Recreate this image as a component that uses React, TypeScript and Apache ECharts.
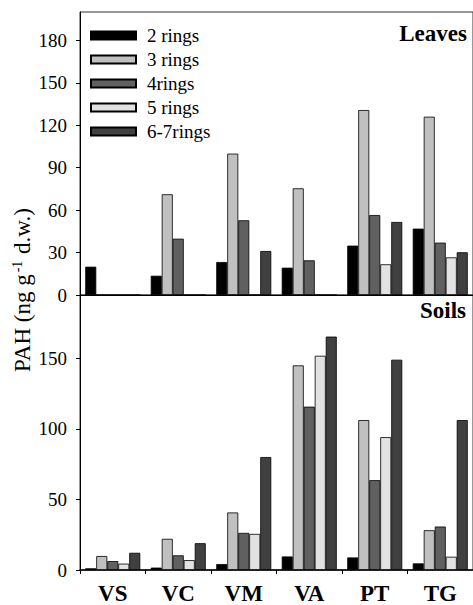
import React, { useEffect, useRef } from "react";
import * as echarts from "echarts";

const sites = ["VS", "VC", "VM", "VA", "PT", "TG"];
const ringNames = ["2 rings", "3 rings", "4rings", "5 rings", "6-7rings"];
const ringColors = ["#000000", "#c0c0c0", "#606060", "#e2e2e2", "#404040"];

// Leaves (ng g-1 d.w.)
const leaves2 = [20, 13.6, 23.3, 19.3, 34.9, 46.9];
const leaves3 = [0, 71.2, 99.9, 75.4, 130.7, 126];
const leaves4 = [0, 39.8, 52.8, 24.5, 56.5, 37];
const leaves5 = [0, 0, 0, 0, 21.7, 26.6];
const leaves67 = [0, 0, 31.1, 0, 51.6, 30.2];

// Soils (ng g-1 d.w.)
const soils2 = [1.2, 1.7, 4.2, 9.6, 8.9, 4.7];
const soils3 = [9.9, 22.1, 40.8, 145.1, 106.3, 28.2];
const soils4 = [6.3, 10.4, 26.3, 115.8, 63.7, 30.8];
const soils5 = [4.5, 7.0, 25.6, 151.9, 94.2, 9.4];
const soils67 = [12.2, 19.0, 80.1, 165.5, 149.1, 106.3];

const leavesTicks = [0, 30, 60, 90, 120, 150, 180];
const soilsTicks = [0, 50, 100, 150];

const FONT = "Liberation Serif";

export default function App() {
  const ref = useRef<HTMLDivElement>(null);

  useEffect(() => {
    if (!ref.current) return;
    const chart = echarts.init(ref.current, null, { renderer: "svg" });
    const leaves = [leaves2, leaves3, leaves4, leaves5, leaves67];
    const soils = [soils2, soils3, soils4, soils5, soils67];

    const mkSeries = (data: number[][], idx: number) =>
      data.map((d, i) => ({
        type: "bar",
        name: ringNames[i],
        xAxisIndex: idx,
        yAxisIndex: idx,
        data: d,
        barWidth: 11,
        barGap: "0%",
        itemStyle: { color: ringColors[i], borderColor: "#000", borderWidth: 0.8 },
      }));

    const yAxisBase = {
      type: "value",
      axisLine: { show: true, lineStyle: { color: "#000", width: 1 } },
      axisTick: { show: true, length: 4, lineStyle: { color: "#000" } },
      splitLine: { show: false },
      axisLabel: { color: "#000", fontSize: 19, fontFamily: FONT, margin: 13, showMaxLabel: false },
    };

    chart.setOption({
      animation: false,
      textStyle: { fontFamily: FONT },
      grid: [
        { left: 80, top: 12, width: 394, height: 283, show: true, borderColor: "#333", borderWidth: 1 },
        { left: 80, top: 295, width: 394, height: 278, show: true, borderColor: "#333", borderWidth: 1 },
      ],
      legend: {
        orient: "vertical",
        left: 90,
        top: 26,
        padding: 0,
        itemWidth: 45,
        itemHeight: 8,
        itemGap: 5,
        icon: "rect",
        data: ringNames,
        textStyle: { color: "#000", fontSize: 19, lineHeight: 19, fontFamily: FONT, padding: [0, 0, 0, 6] },
        selectedMode: false,
      },
      xAxis: [
        {
          type: "category",
          gridIndex: 0,
          data: sites,
          axisLine: { lineStyle: { color: "#000", width: 1 } },
          axisTick: { show: false },
          axisLabel: { show: false },
        },
        {
          type: "category",
          gridIndex: 1,
          data: sites,
          axisLine: { lineStyle: { color: "#000", width: 1.5 } },
          axisTick: { show: true, length: 4, lineStyle: { color: "#000" } },
          axisLabel: { color: "#000", fontSize: 23, fontWeight: "bold", fontFamily: FONT, margin: 12 },
        },
      ],
      yAxis: [
        {
          ...yAxisBase,
          gridIndex: 0,
          min: 0,
          max: 200,
          interval: 30,
          axisTick: { ...yAxisBase.axisTick, customValues: leavesTicks },
        },
        {
          ...yAxisBase,
          gridIndex: 1,
          min: 0,
          max: 195,
          interval: 50,
          axisTick: { ...yAxisBase.axisTick, customValues: soilsTicks },
        },
      ],
      graphic: [
        {
          type: "text",
          x: 22,
          y: 290,
          rotation: Math.PI / 2,
          style: {
            text: "{a|PAH (ng g}{s|-1}{a| d.w.)}",
            align: "center",
            verticalAlign: "middle",
            fill: "#000",
            rich: {
              a: { fontSize: 23, fontFamily: FONT, fill: "#000" },
              s: { fontSize: 14, fontFamily: FONT, fill: "#000", verticalAlign: "top", padding: [0, 1, 0, 2] },
            },
          },
        },
        {
          type: "text",
          x: 467,
          y: 33,
          style: {
            text: "Leaves",
            align: "right",
            verticalAlign: "middle",
            fontSize: 23,
            fontWeight: "bold",
            fontFamily: FONT,
            fill: "#000",
          },
        },
        {
          type: "text",
          x: 466,
          y: 310,
          style: {
            text: "Soils",
            align: "right",
            verticalAlign: "middle",
            fontSize: 23,
            fontWeight: "bold",
            fontFamily: FONT,
            fill: "#000",
          },
        },
      ],
      series: [...mkSeries(leaves, 0), ...mkSeries(soils, 1)],
    });

    return () => chart.dispose();
  }, []);

  return (
    <div
      ref={ref}
      style={{ position: "absolute", left: 0, top: 0, width: 473, height: 605, background: "#fff" }}
    />
  );
}
